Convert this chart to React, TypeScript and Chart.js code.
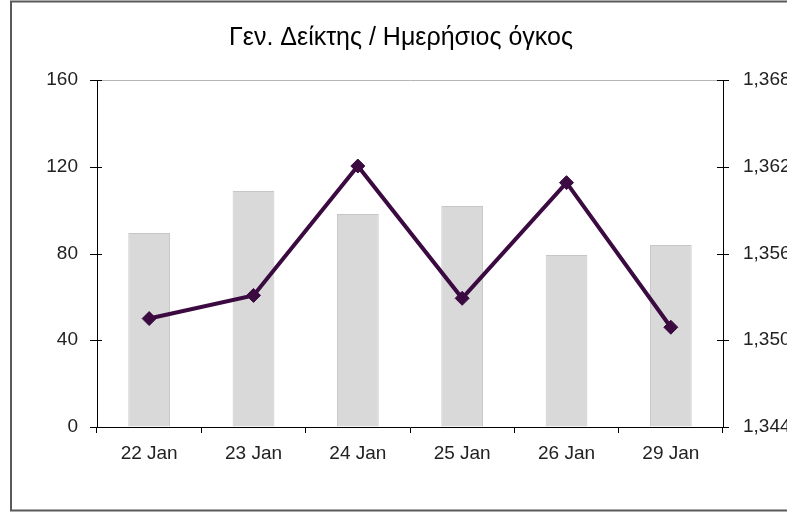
import React, { useEffect, useRef } from "react";
import { Chart, registerables } from "chart.js";

Chart.register(...registerables);

const titleText = "Γεν. Δείκτης / Ημερήσιος όγκος";
const categories = ["22 Jan", "23 Jan", "24 Jan", "25 Jan", "26 Jan", "29 Jan"];
const volumeValues = [89.4, 108.8, 98.2, 101.9, 79.3, 83.9];
const indexValues = [1351.5, 1353.1, 1362.05, 1352.9, 1360.9, 1350.9];
const leftTicks = [0, 40, 80, 120, 160];
const rightTicks = [1344, 1350, 1356, 1362, 1368];

const FONT = "'Liberation Sans', Arial, sans-serif";
const LINE_COLOR = "#3a0a40";

const crossTicks = {
  id: "crossTicks",
  afterDraw(chart: any) {
    const ctx = chart.ctx;
    const y = chart.scales.y;
    const y1 = chart.scales.y1;
    ctx.save();
    ctx.strokeStyle = "#000";
    ctx.lineWidth = 1;
    y.ticks.forEach((t: any) => {
      const p = Math.round(y.getPixelForValue(t.value)) + 0.5;
      ctx.beginPath();
      ctx.moveTo(y.right - 7, p);
      ctx.lineTo(y.right + 5, p);
      ctx.stroke();
    });
    y1.ticks.forEach((t: any) => {
      const p = Math.round(y1.getPixelForValue(t.value)) + 0.5;
      ctx.beginPath();
      ctx.moveTo(y1.left - 6, p);
      ctx.lineTo(y1.left + 6, p);
      ctx.stroke();
    });
    // frame
    ctx.strokeStyle = "#5a5a5a";
    ctx.lineWidth = 2;
    ctx.beginPath();
    ctx.moveTo(801, 1.5);
    ctx.lineTo(11, 1.5);
    ctx.lineTo(11, 510.5);
    ctx.lineTo(801, 510.5);
    ctx.stroke();
    ctx.restore();
  },
};

export default function App() {
  const ref = useRef<HTMLCanvasElement | null>(null);

  useEffect(() => {
    if (!ref.current) return;
    const chart = new Chart(ref.current, {
      type: "bar",
      data: {
        labels: categories,
        datasets: [
          {
            type: "line",
            label: "Γεν. Δείκτης",
            data: indexValues,
            yAxisID: "y1",
            borderColor: LINE_COLOR,
            backgroundColor: LINE_COLOR,
            borderWidth: 4,
            pointStyle: "rectRot",
            pointRadius: 7,
            pointBackgroundColor: LINE_COLOR,
            pointBorderColor: LINE_COLOR,
            pointBorderWidth: 1,
            tension: 0,
            order: 0,
          } as any,
          {
            type: "bar",
            label: "Ημερήσιος όγκος",
            data: volumeValues,
            yAxisID: "y",
            backgroundColor: "#d9d9d9",
            borderColor: "#c6c6c6",
            borderWidth: 1,
            barPercentage: 0.4,
            categoryPercentage: 1,
            order: 1,
          } as any,
        ],
      },
      options: {
        responsive: false,
        animation: false,
        layout: { padding: 0 },
        plugins: {
          legend: { display: false },
          tooltip: { enabled: false },
          title: {
            display: true,
            text: titleText,
            color: "#000",
            font: { family: FONT, size: 25, weight: "normal" as any, lineHeight: 1.2 },
            padding: { top: 23, bottom: 27 },
          },
        },
        scales: {
          x: {
            offset: true,
            grid: {
              offset: true,
              drawOnChartArea: false,
              drawTicks: true,
              tickLength: 6,
              color: "#000",
            },
            border: { display: true, color: "#000", width: 1 },
            ticks: {
              color: "#222",
              font: { family: FONT, size: 19 },
              padding: 9,
              maxRotation: 0,
            },
            afterFit: (s: any) => {
              s.height = 85;
            },
          },
          y: {
            position: "left",
            min: 0,
            max: 160,
            afterBuildTicks: (s: any) => {
              s.ticks = leftTicks.map((v) => ({ value: v }));
            },
            grid: {
              drawOnChartArea: true,
              drawTicks: false,
              color: (c: any) => (c.tick && c.tick.value === 160 ? "#b5b5b5" : "rgba(0,0,0,0)"),
            },
            border: { display: true, color: "#000", width: 1 },
            ticks: {
              color: "#222",
              font: { family: FONT, size: 19 },
              padding: 19,
            },
            afterFit: (s: any) => {
              s.width = 97;
            },
          },
          y1: {
            position: "right",
            min: 1344,
            max: 1368,
            afterBuildTicks: (s: any) => {
              s.ticks = rightTicks.map((v) => ({ value: v }));
            },
            grid: { drawOnChartArea: false, drawTicks: false },
            border: { display: true, color: "#000", width: 1 },
            ticks: {
              color: "#222",
              font: { family: FONT, size: 19 },
              padding: 20,
              callback: (v: any) => Number(v).toLocaleString("en-US"),
            },
            afterFit: (s: any) => {
              s.width = 79;
            },
          },
        },
      },
      plugins: [crossTicks],
    });
    return () => chart.destroy();
  }, []);

  return (
    <div
      style={{
        position: "fixed",
        left: 0,
        top: 0,
        width: 787,
        height: 512,
        overflow: "hidden",
        background: "#fff",
      }}
    >
      <canvas ref={ref} width={802} height={512} style={{ width: 802, height: 512, display: "block" }} />
    </div>
  );
}
